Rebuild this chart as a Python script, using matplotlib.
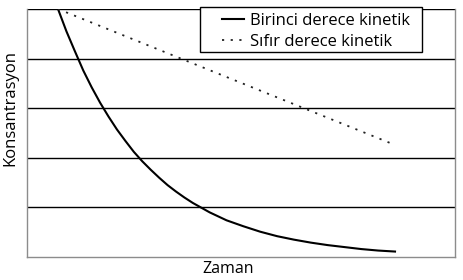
import matplotlib
matplotlib.use("Agg")
import matplotlib.pyplot as plt
from matplotlib.patches import Rectangle

plt.rcParams['font.family'] = ['Open Sans', 'DejaVu Sans']

# values (time in arbitrary units, concentration 0-5)
t_first = [0, 0.25, 0.5, 0.75, 1, 1.25, 1.5, 1.75, 2, 2.25, 2.5, 2.75, 3, 3.25, 3.5, 3.75, 4,
           4.5, 5, 5.5, 6, 6.5, 7, 7.5, 8, 8.5, 9, 9.5, 10]
c_first = [5.0, 4.55, 4.15, 3.76, 3.42, 3.11, 2.83, 2.57, 2.34, 2.12, 1.93, 1.76, 1.6, 1.45,
           1.32, 1.20, 1.09, 0.90, 0.74, 0.62, 0.51, 0.42, 0.35, 0.29, 0.24, 0.20, 0.16, 0.13, 0.11]
t_zero = [0, 9.85]
c_zero = [5.0, 2.3]
grid_levels = [1, 2, 3, 4, 5]

fig = plt.figure(figsize=(4.64, 2.80), dpi=100)
ax = fig.add_axes([27/464, 23/280, 428/464, 248/280])

for g in grid_levels:
    ax.axhline(g, color='black', lw=1, zorder=1)

ax.plot(t_first, c_first, color='black', lw=1.5, label='Birinci derece kinetik', zorder=3)
ax.plot(t_zero, c_zero, color='#222222', lw=1.3, linestyle=(0, (1.2, 3.6)),
        label='Sıfır derece kinetik', zorder=3)

ax.set_xlim(-0.92, 11.78)
ax.set_ylim(0, 5)
ax.set_xticks([])
ax.set_yticks([])
for side in ['left', 'right', 'bottom']:
    ax.spines[side].set_color('#8c8c8c')
    ax.spines[side].set_linewidth(1)
ax.spines['top'].set_visible(False)

# legend box drawn by hand, legend itself without frame
box = Rectangle((0.404, 0.827), 0.519, 0.181, transform=ax.transAxes, facecolor='white',
                edgecolor='black', lw=1, clip_on=False, zorder=4)
ax.add_patch(box)
leg = ax.legend(loc='upper left', bbox_to_anchor=(0.456, 0.985), fontsize=12,
                frameon=False, handlelength=1.3, handletextpad=0.35, borderpad=0,
                labelspacing=0.3, borderaxespad=0)
leg.set_zorder(5)

fig.text(228/464, 1 - 269/280, 'Zaman', ha='center', va='center', fontsize=11.5)
fig.text(10/464, 1 - 108/280, 'Konsantrasyon', ha='center', va='center', rotation=90, fontsize=12)

fig.savefig('out.png', dpi=100)
